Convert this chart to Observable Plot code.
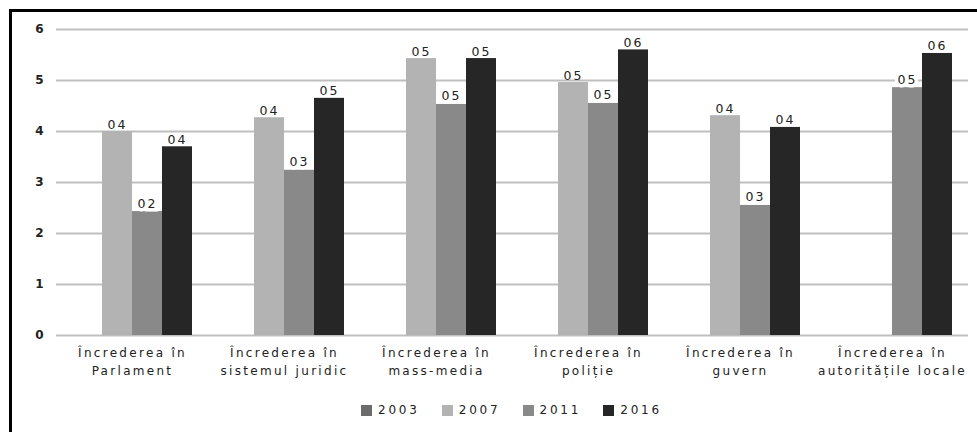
<!DOCTYPE html>
<html>
<head>
<meta charset="utf-8">
<script src="https://cdn.jsdelivr.net/npm/d3@7"></script>
<script src="https://cdn.jsdelivr.net/npm/@observablehq/plot@0.6"></script>
<style>
  html, body { margin: 0; padding: 0; background: #fff; width: 977px; height: 432px; overflow: hidden; }
  #chart { position: absolute; left: 0; top: 0; }
  #chart svg { background: transparent; }
  #chart svg g[aria-label="fx-axis tick label"] text { letter-spacing: 2.3px; }
  #chart svg g[aria-label="y-axis tick label"] text { letter-spacing: 1px; }
  #chart svg g.vlabel text { letter-spacing: 2px; }
  #frame { position: absolute; left: 9px; top: 9px; width: 990px; height: 440px;
           border-top: 3px solid #000; border-left: 3px solid #000; pointer-events: none; z-index: 2; }
  #legend { position: absolute; left: 53px; width: 917px; top: 403px; display: flex; justify-content: center;
            gap: 22px; font-family: "DejaVu Sans", sans-serif; font-size: 12px; letter-spacing: 2.8px; color: #222; }
  #legend .item { display: flex; align-items: center; gap: 6px; }
  #legend .sw { width: 11px; height: 11px; display: inline-block; }
</style>
</head>
<body>
<div id="chart"></div>
<div id="legend"></div>
<div id="frame"></div>
<script>
const categories = [
  "Încrederea în\nParlament",
  "Încrederea în\nsistemul juridic",
  "Încrederea în\nmass-media",
  "Încrederea în\npoliție",
  "Încrederea în\nguvern",
  "Încrederea în\nautoritățile locale"
];
const years = ["2003", "2007", "2011", "2016"];
const colors = ["#6b6b6b", "#b3b3b3", "#898989", "#262626"];
const v2003 = [null, null, null, null, null, null];
const v2007 = [4.0, 4.27, 5.43, 4.96, 4.31, null];
const v2011 = [2.43, 3.24, 4.53, 4.55, 2.55, 4.86];
const v2016 = [3.7, 4.65, 5.43, 5.6, 4.08, 5.53];
const yTicks = [0, 1, 2, 3, 4, 5, 6];

const series = [v2003, v2007, v2011, v2016];
const data = [];
categories.forEach((c, i) => {
  years.forEach((y, j) => {
    const v = series[j][i];
    if (v != null) data.push({category: c, year: y, value: v, label: "0" + Math.round(v)});
  });
});

const font = "DejaVu Sans, sans-serif";
const plot = Plot.plot({
  width: 977,
  height: 390,
  marginLeft: 53,
  marginRight: 7,
  marginTop: 29,
  marginBottom: 55,
  style: {fontFamily: font, fontSize: "12px", color: "#222", background: "transparent"},
  fx: {domain: categories, padding: 0, label: null},
  x: {domain: years, paddingInner: 0, paddingOuter: 0.47, axis: null},
  y: {domain: [0, 6], label: null},
  color: {domain: years, range: colors},
  marks: [
    Plot.gridY(yTicks, {stroke: "#bfbfbf", strokeOpacity: 1, strokeWidth: 2}),
    Plot.axisY(yTicks, {tickSize: 0, tickPadding: 12, tickFormat: d3.format("d"), fontWeight: "bold", fontSize: 12, label: null}),
    Plot.axisFx({anchor: "bottom", tickSize: 0, tickPadding: 9, fontSize: 12, lineHeight: 1.5, label: null}),
    Plot.barY(data, {fx: "category", x: "year", y: "value", fill: "year"}),
    Plot.text(data.filter(d => d.year === "2011"), {fx: "category", x: "year", y: "value", text: "label",
      lineAnchor: "bottom", dy: -4, stroke: "white", strokeWidth: 7, strokeLinejoin: "miter",
      fill: "#222", fontSize: 12.5, className: "vlabel"}),
    Plot.text(data.filter(d => d.year !== "2011"), {fx: "category", x: "year", y: "value", text: "label",
      lineAnchor: "bottom", dy: -3, fill: "#222", fontSize: 12.5, className: "vlabel"})
  ]
});
document.getElementById("chart").appendChild(plot);

const legend = document.getElementById("legend");
years.forEach((y, i) => {
  const item = document.createElement("span");
  item.className = "item";
  const sw = document.createElement("span");
  sw.className = "sw";
  sw.style.background = colors[i];
  const lab = document.createElement("span");
  lab.textContent = y;
  item.appendChild(sw);
  item.appendChild(lab);
  legend.appendChild(item);
});
</script>
</body>
</html>
